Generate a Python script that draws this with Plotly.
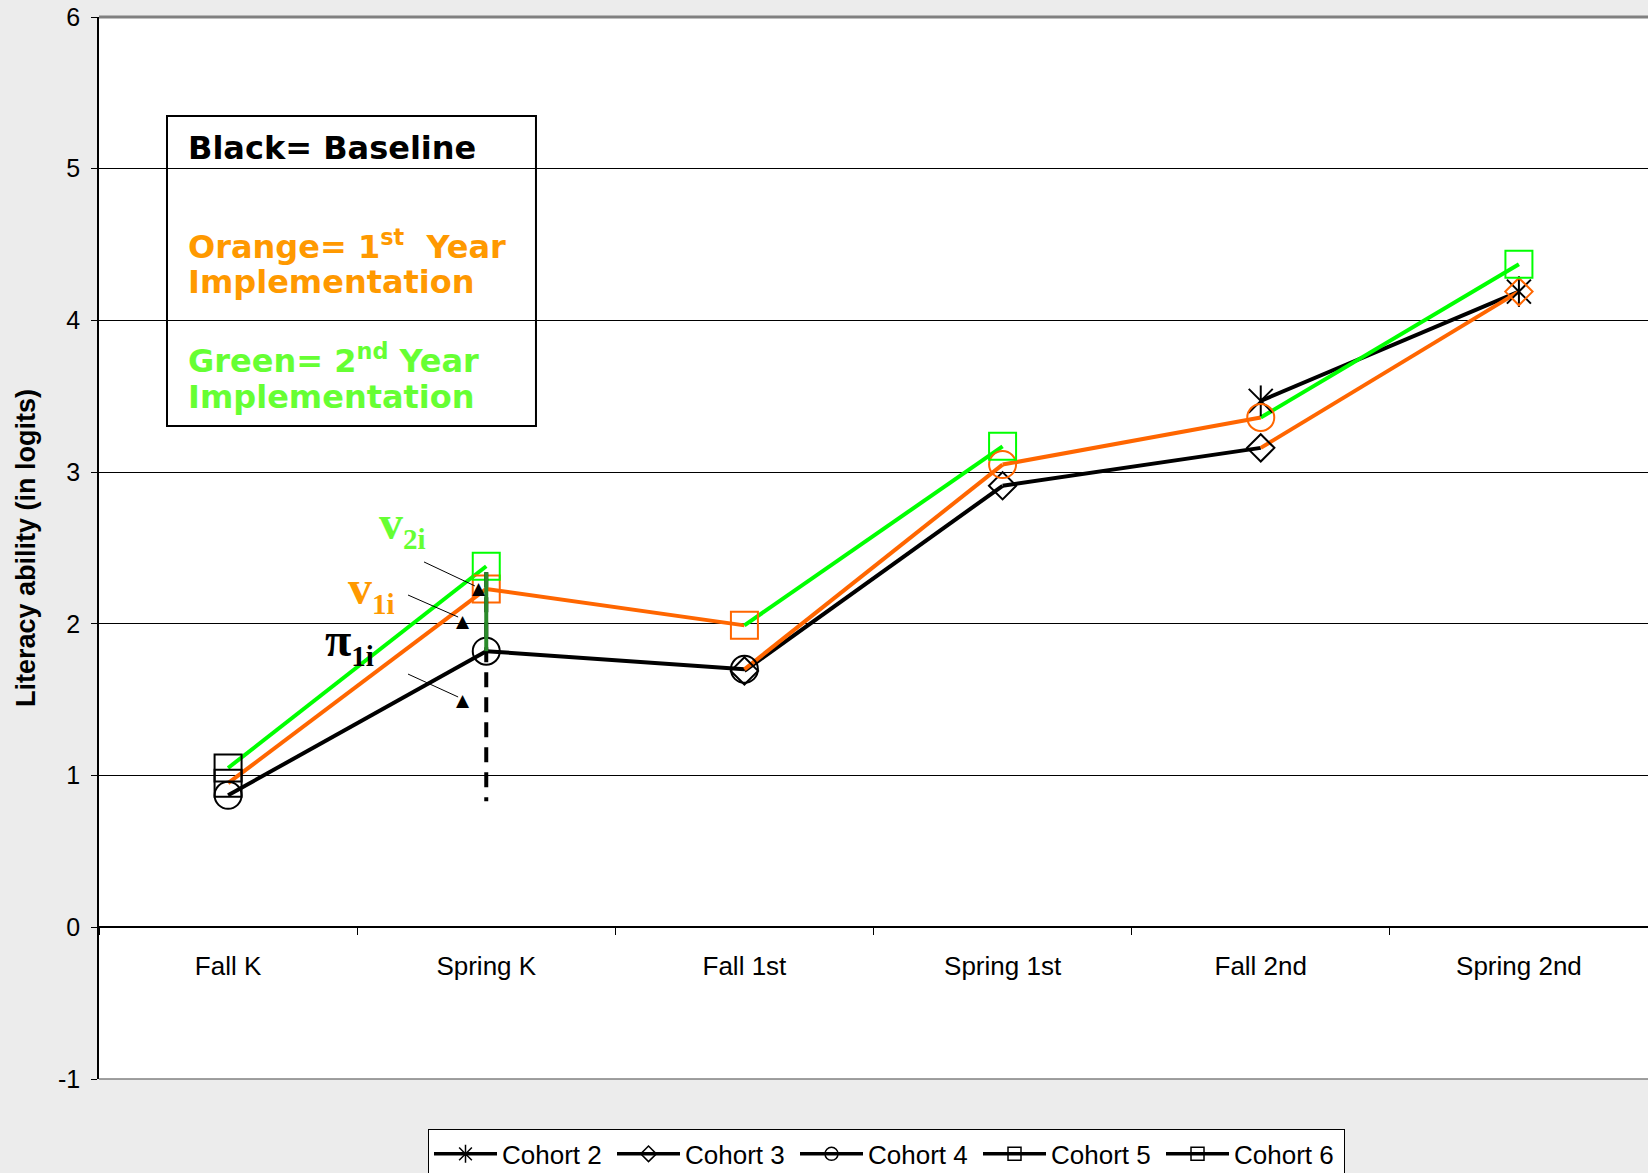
import plotly.graph_objects as go

# ---------------- data ----------------
categories = ["Fall K", "Spring K", "Fall 1st", "Spring 1st", "Fall 2nd", "Spring 2nd"]
y_ticks = [-1, 0, 1, 2, 3, 4, 5, 6]
y_tick_labels = ["-1", "0", "1", "2", "3", "4", "5", "6"]

cohort_names = ["Cohort 2", "Cohort 3", "Cohort 4", "Cohort 5", "Cohort 6"]

cohort2_x = ["Fall 2nd", "Spring 2nd"]
cohort2_y = [3.47, 4.19]
cohort2_phase = ["base"]                     # phase of each segment

cohort3_x = ["Fall 1st", "Spring 1st", "Fall 2nd", "Spring 2nd"]
cohort3_y = [1.69, 2.91, 3.16, 4.19]
cohort3_phase = ["base", "base", "yr1"]

cohort4_x = ["Fall K", "Spring K", "Fall 1st", "Spring 1st", "Fall 2nd", "Spring 2nd"]
cohort4_y = [0.87, 1.82, 1.70, 3.05, 3.36, 4.37]
cohort4_phase = ["base", "base", "yr1", "yr1", "yr2"]

cohort5_x = ["Fall K", "Spring K", "Fall 1st", "Spring 1st"]
cohort5_y = [0.95, 2.23, 1.99, 3.17]
cohort5_phase = ["yr1", "yr1", "yr2"]

cohort6_x = ["Fall K", "Spring K"]
cohort6_y = [1.05, 2.38]
cohort6_phase = ["yr2"]

# ---------------- styles ----------------
FONT = "Arial, Liberation Sans, sans-serif"
phase_color = {"base": "#000000", "yr1": "#FF6600", "yr2": "#00FF00"}

cohorts = [
    dict(x=cohort2_x, y=cohort2_y, ph=cohort2_phase, sym=["x-thin-open"] * 2, size=24),
    dict(x=cohort3_x, y=cohort3_y, ph=cohort3_phase, sym=["diamond-open"] * 4, size=21),
    dict(x=cohort4_x, y=cohort4_y, ph=cohort4_phase,
         sym=["circle-open"] * 5 + ["square-open"], size=27),
    dict(x=cohort5_x, y=cohort5_y, ph=cohort5_phase, sym=["square-open"] * 4, size=27),
    dict(x=cohort6_x, y=cohort6_y, ph=cohort6_phase, sym=["square-open"] * 2, size=27),
]

fig = go.Figure()

# line segments, drawn black first, then orange, then green
for phase in ["base", "yr1", "yr2"]:
    for c in cohorts:
        for i, p in enumerate(c["ph"]):
            if p != phase:
                continue
            fig.add_trace(go.Scatter(
                x=c["x"][i:i + 2], y=c["y"][i:i + 2], mode="lines",
                line=dict(color=phase_color[phase], width=4),
                showlegend=False, hoverinfo="skip"))

# markers: coloured by the phase of the incoming segment (black at start)
for c in cohorts:
    cols = ["#000000"] + [phase_color[p] for p in c["ph"]]
    fig.add_trace(go.Scatter(
        x=c["x"], y=c["y"], mode="markers",
        marker=dict(symbol=c["sym"], size=c["size"], color=cols,
                    line=dict(width=2, color=cols)),
        showlegend=False, hoverinfo="skip"))
    if c["sym"][0] == "x-thin-open":
        fig.add_trace(go.Scatter(
            x=c["x"], y=c["y"], mode="markers",
            marker=dict(symbol="line-ns-open", size=22, color=cols,
                        line=dict(width=2, color=cols)),
            showlegend=False, hoverinfo="skip"))

# legend entries
legend_syms = ["asterisk-open", "diamond-open", "circle-open", "square-open", "square-open"]
legend_sizes = [15, 12, 13, 13, 13]
for name, s, sz in zip(cohort_names, legend_syms, legend_sizes):
    fig.add_trace(go.Scatter(
        x=[None], y=[None], mode="lines+markers", name=name,
        line=dict(color="black", width=3.5),
        marker=dict(symbol=s, size=sz, color="black", line=dict(width=1.5, color="black"))))

# ---------------- decorations ----------------
shapes = [
    # dashed vertical marker at Spring K
    dict(type="line", xref="x", yref="y", x0=1, x1=1, y0=2.34, y1=0.83,
         line=dict(color="black", width=4, dash="15px,10px"), layer="above"),
    dict(type="line", xref="x", yref="y", x0=1, x1=1, y0=2.34, y1=1.82,
         line=dict(color="#2A8A2A", width=4), layer="above"),
    # plot-area top/bottom borders
    dict(type="line", xref="paper", yref="paper", x0=0, x1=1, y0=1, y1=1,
         line=dict(color="#808080", width=3), layer="above"),
    dict(type="line", xref="paper", yref="paper", x0=0, x1=1, y0=0, y1=0,
         line=dict(color="#808080", width=1.5), layer="above"),
    # text box
    dict(type="rect", xref="paper", yref="paper", x0=0.0439, x1=0.2821, y0=0.6149, y1=0.9068,
         line=dict(color="black", width=2), fillcolor="rgba(0,0,0,0)", layer="above"),
    # thin pointer lines
    dict(type="line", xref="x", yref="y", x0=0.759, y0=2.408, x1=0.956, y1=2.250,
         line=dict(color="black", width=1), layer="above"),
    dict(type="line", xref="x", yref="y", x0=0.697, y0=2.190, x1=0.891, y1=2.045,
         line=dict(color="black", width=1), layer="above"),
    dict(type="line", xref="x", yref="y", x0=0.697, y0=1.669, x1=0.891, y1=1.518,
         line=dict(color="black", width=1), layer="above"),
]

BOXFONT = "DejaVu Sans, Verdana, sans-serif"
NB = "\u00a0"
annotations = [
    dict(text="Black= Baseline", x=0.0561, y=0.8766, color="#000000"),
    dict(text=f"Orange= 1<sup>st</sup>{NB}{NB}Year", x=0.0561, y=0.7853, color="#FF9900"),
    dict(text="Implementation", x=0.0561, y=0.7505, color="#FF9900"),
    dict(text="Green= 2<sup>nd</sup> Year", x=0.0561, y=0.6780, color="#66FF33"),
    dict(text="Implementation", x=0.0561, y=0.6422, color="#66FF33"),
]
ann = []
for a in annotations:
    ann.append(dict(text=a["text"], x=a["x"], y=a["y"], xref="paper", yref="paper",
                    xanchor="left", yanchor="middle", showarrow=False,
                    font=dict(family=BOXFONT, size=32, color=a["color"], weight="bold")))

SERIF = "Liberation Serif, Times New Roman, serif"
greek = [
    ("v", "2i", 0.578, 2.65, "#66FF33"),
    ("v", "1i", 0.458, 2.22, "#FF9900"),
    ("\u03c0", "1i", 0.368, 1.875, "#000000"),
]
for main, sub, gx, gy, col in greek:
    ann.append(dict(text=f"{main}<sub><span style='font-size:29px'>{sub}</span></sub>",
                    x=gx, y=gy, xref="x", yref="y", xanchor="left", yanchor="middle",
                    showarrow=False,
                    font=dict(family=SERIF, size=48, color=col, weight="bold")))

# triangle heads of the pointers
for tx, ty in [(0.972, 2.237), (0.910, 2.020), (0.910, 1.499)]:
    ann.append(dict(text="\u25b2", x=tx, y=ty, xref="x", yref="y",
                    xanchor="center", yanchor="middle", showarrow=False,
                    font=dict(family="DejaVu Sans", size=17, color="black")))

fig.update_layout(
    width=1648, height=1173,
    margin=dict(l=99, r=0, t=17, b=94, autoexpand=False),
    paper_bgcolor="#ECECEC", plot_bgcolor="white",
    font=dict(family=FONT, color="black"),
    shapes=shapes, annotations=ann,
    legend=dict(orientation="h", x=0.2124, y=-0.0475, xanchor="left", yanchor="top",
                bgcolor="white", bordercolor="black", borderwidth=1,
                font=dict(family=FONT, size=26, color="black"),
                itemwidth=63, entrywidth=105, entrywidthmode="pixels",
                itemclick=False, itemdoubleclick=False),
    xaxis=dict(type="category", categoryorder="array", categoryarray=categories,
               range=[-0.5, 5.5], anchor="free", position=1 / 7,
               showline=True, linecolor="black", linewidth=1.5,
               ticks="outside", tickson="boundaries", ticklen=7, tickcolor="black",
               showgrid=False, zeroline=False,
               tickfont=dict(family=FONT, size=26, color="black"),
               ticklabelstandoff=16),
    yaxis=dict(range=[-1, 6], tickmode="array", tickvals=y_ticks, ticktext=y_tick_labels,
               showline=True, linecolor="black", linewidth=1.5,
               ticks="outside", ticklen=6, tickcolor="black",
               showgrid=True, gridcolor="#000000", gridwidth=1, zeroline=False,
               tickfont=dict(family=FONT, size=25, color="black"),
               ticklabelstandoff=6,
               title=dict(text="Literacy ability (in logits)", standoff=15,
                          font=dict(family=FONT, size=27, color="black", weight="bold"))),
)

fig.write_html("out.html", config={"displayModeBar": False},
               post_script="document.body.style.margin='0px';")
